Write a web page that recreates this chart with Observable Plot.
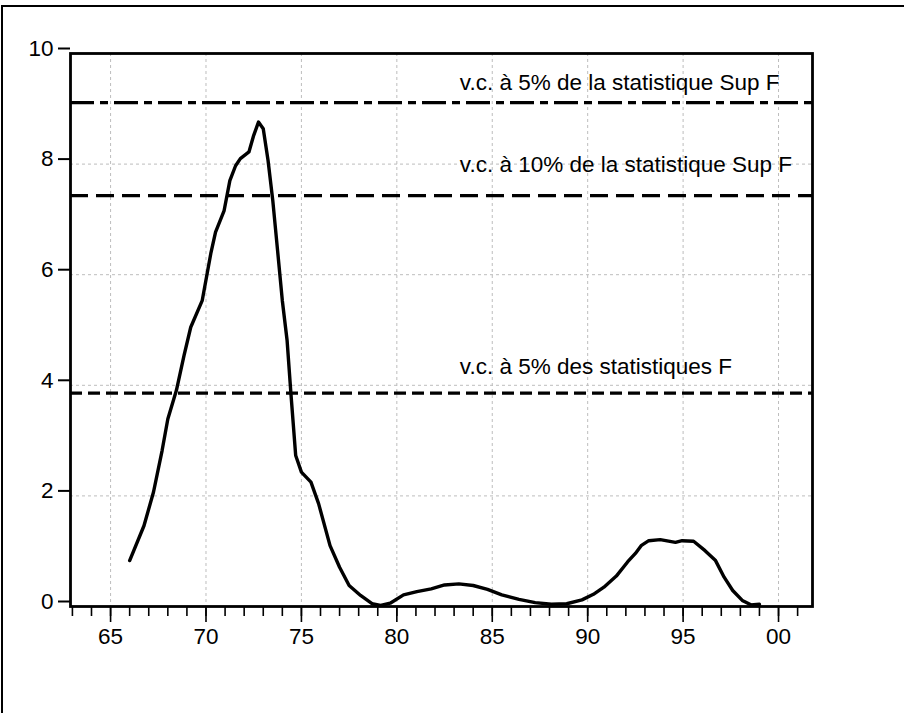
<!DOCTYPE html>
<html>
<head>
<meta charset="utf-8">
<script src="https://cdn.jsdelivr.net/npm/d3@7"></script>
<script src="https://cdn.jsdelivr.net/npm/@observablehq/plot@0.6"></script>
<style>
  html, body { margin: 0; padding: 0; background: white; }
  #wrap { position: relative; width: 904px; height: 713px; overflow: hidden; }
  #wrap svg { display: block; position: absolute; left: 0; top: 0; }
  #border { position: absolute; left: 1px; top: 5px; width: 910px; height: 720px;
            border-top: 2px solid black; border-left: 2px solid black; pointer-events: none; }
</style>
</head>
<body>
<div id="wrap"><div id="border"></div></div>
<script>
// F statistic series (year, two-digit, 1900-based)
const years = [66.0, 66.75, 67.25, 67.7, 68.0, 68.45, 68.85, 69.2, 69.8, 70.25, 70.5, 70.95,
  71.25, 71.55, 71.8, 72.25, 72.5, 72.75, 73.0, 73.25, 73.5, 73.75, 74.0, 74.25, 74.45, 74.7,
  75.0, 75.5, 75.9, 76.5, 77.0, 77.5, 78.1, 78.7, 79.15, 79.65, 80.35, 81.05, 81.8, 82.5,
  83.25, 84.0, 84.75, 85.5, 86.4, 87.25, 88.1, 88.9, 89.7, 90.3, 90.85, 91.5, 92.1, 92.5,
  92.8, 93.2, 93.8, 94.6, 94.95, 95.55, 96.15, 96.7, 97.15, 97.6, 98.1, 98.55, 99.0];
const fValues = [0.83, 1.46, 2.07, 2.82, 3.39, 3.91, 4.54, 5.05, 5.53, 6.38, 6.77, 7.16,
  7.70, 7.97, 8.10, 8.22, 8.52, 8.76, 8.64, 8.07, 7.34, 6.44, 5.53, 4.81, 3.85, 2.73,
  2.43, 2.25, 1.86, 1.10, 0.71, 0.38, 0.20, 0.05, 0.02, 0.06, 0.21, 0.27, 0.32, 0.39,
  0.41, 0.38, 0.31, 0.21, 0.13, 0.07, 0.04, 0.05, 0.12, 0.22, 0.35, 0.55, 0.81, 0.96,
  1.10, 1.19, 1.21, 1.16, 1.19, 1.18, 1.01, 0.83, 0.53, 0.29, 0.11, 0.03, 0.04];

// critical values
const critValues = [9.11, 7.43, 3.86];
const critLabels = [
  "v.c. à 5% de la statistique Sup F",
  "v.c. à 10% de la statistique Sup F",
  "v.c. à 5% des statistiques F"
];
const labelYear = 83.3;

// axis ticks
const xMajorTicks = [65, 70, 75, 80, 85, 90, 95, 100];
const xTickLabels = ["65", "70", "75", "80", "85", "90", "95", "00"];
const xMinorTicks = d3.range(63, 102);
const yTicks = [0, 2, 4, 6, 8, 10];
const yGrid = [2, 4, 6, 8];

const series = years.map((x, i) => ({x, y: fValues[i]}));
const gridStyle = {stroke: "#bdbdbd", strokeOpacity: 1, strokeWidth: 1, strokeDasharray: "3,3"};
const dashes = ["24,6,8,6", "18,8", "12,6"];
const labelDy = [-19.5, -30.5, -26];
const FS = 22.5;

const chart = Plot.plot({
  width: 904,
  height: 713,
  marginLeft: 70,
  marginRight: 92,
  marginTop: 53,
  marginBottom: 107,
  x: {domain: [62.9, 101.78]},
  y: {domain: [0, 10]},
  style: {fontFamily: "'Liberation Sans', Arial, sans-serif", fontSize: FS + "px", background: "white", color: "black"},
  marks: [
    Plot.gridX(xMajorTicks, gridStyle),
    Plot.gridY(yGrid, gridStyle),
    ...critValues.map((v, i) => Plot.ruleY([v], {stroke: "black", strokeWidth: 3.2, strokeDasharray: dashes[i]})),
    Plot.line(series, {x: "x", y: "y", stroke: "black", strokeWidth: 3.4, strokeLinejoin: "round", strokeLinecap: "round"}),
    ...critLabels.map((t, i) => Plot.text([t], {
      x: () => labelYear, y: () => critValues[i], text: d => d,
      textAnchor: "start", dy: labelDy[i], fontSize: FS, fill: "black"
    })),
    Plot.frame({stroke: "black", strokeWidth: 2.8}),
    Plot.axisX(xMinorTicks, {tickSize: 10, tickFormat: () => "", strokeWidth: 1.6, label: null}),
    Plot.axisX(xMajorTicks, {tickSize: 16, tickPadding: 6, strokeWidth: 1.6, fontSize: FS, label: null,
      tickFormat: d => xTickLabels[xMajorTicks.indexOf(d)]}),
    Plot.axisY(yTicks, {tickSize: 12, tickPadding: 5, dy: -5, strokeWidth: 2, fontSize: FS, label: null,
      tickFormat: d => String(d)})
  ]
});
document.getElementById("wrap").insertBefore(chart, document.getElementById("border"));
</script>
</body>
</html>
